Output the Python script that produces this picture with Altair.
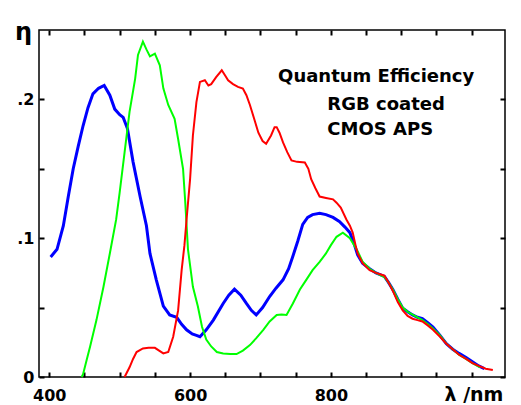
import altair as alt
import pandas as pd

# ---- data ----
blue_nm = [402, 411, 420, 427, 434, 441, 448, 455, 462, 470, 478, 486, 493, 500, 505, 511, 519, 529,
           538, 543, 552, 562, 571, 581, 588, 595, 603, 609, 614, 623, 633, 647, 655, 663, 672, 680,
           687, 694, 703, 713, 722, 732, 740, 746, 753, 760, 767, 774, 784, 793, 803, 812, 820, 827,
           833, 838, 845, 855, 864, 876, 882, 888, 895, 902, 909, 916, 923, 930, 938, 945, 955, 964,
           973, 982, 992, 1001, 1010, 1018]
blue_eta = [0.0865, 0.092, 0.109, 0.130, 0.150, 0.166, 0.181, 0.194, 0.204, 0.208, 0.210, 0.203, 0.193,
            0.189, 0.187, 0.179, 0.155, 0.130, 0.109, 0.089, 0.070, 0.051, 0.0447, 0.043, 0.038, 0.034,
            0.031, 0.030, 0.029, 0.034, 0.041, 0.053, 0.059, 0.0633, 0.059, 0.053, 0.048, 0.0447, 0.050,
            0.058, 0.064, 0.070, 0.078, 0.087, 0.098, 0.110, 0.115, 0.117, 0.118, 0.117, 0.115, 0.112,
            0.108, 0.104, 0.096, 0.088, 0.082, 0.078, 0.075, 0.0725, 0.068, 0.063, 0.056, 0.0496, 0.047,
            0.0447, 0.043, 0.042, 0.039, 0.036, 0.030, 0.024, 0.020, 0.017, 0.014, 0.011, 0.008, 0.006]

green_nm = [446, 448, 453, 458, 467, 477, 486, 495, 500, 507, 514, 522, 526, 533, 538, 543, 550, 557,
            562, 569, 578, 583, 590, 593, 597, 604, 611, 617, 623, 630, 638, 647, 657, 666, 675, 685,
            694, 704, 713, 723, 730, 737, 746, 756, 765, 774, 784, 793, 800, 808, 817, 827, 833, 838,
            845, 855, 864, 876, 882, 888, 895, 902, 909, 916, 923, 930, 938, 945, 955, 964, 973, 982,
            992, 1001, 1012]
green_eta = [0.0, 0.002, 0.012, 0.022, 0.041, 0.065, 0.089, 0.1135, 0.133, 0.162, 0.191, 0.215, 0.232,
             0.2416, 0.236, 0.231, 0.233, 0.2246, 0.208, 0.196, 0.186, 0.1715, 0.150, 0.127, 0.092,
             0.065, 0.051, 0.036, 0.027, 0.022, 0.018, 0.017, 0.0165, 0.0165, 0.019, 0.023, 0.028,
             0.034, 0.040, 0.0447, 0.045, 0.0447, 0.053, 0.063, 0.070, 0.077, 0.083, 0.089, 0.095,
             0.101, 0.104, 0.100, 0.095, 0.0906, 0.083, 0.078, 0.075, 0.072, 0.068, 0.063, 0.056,
             0.050, 0.047, 0.045, 0.043, 0.041, 0.038, 0.035, 0.030, 0.024, 0.020, 0.016, 0.013,
             0.010, 0.007]

red_nm = [507, 514, 519, 524, 533, 541, 550, 556, 562, 569, 576, 583, 588, 592, 595, 600, 604, 609,
          614, 621, 626, 630, 637, 645, 650, 654, 661, 668, 675, 680, 685, 691, 697, 703, 708, 715,
          720, 723, 727, 732, 738, 744, 752, 763, 768, 772, 778, 784, 793, 803, 808, 814, 822, 827,
          831, 835, 838, 845, 855, 864, 876, 882, 888, 895, 902, 909, 916, 923, 930, 938, 945, 955,
          964, 973, 982, 992, 1001, 1010, 1020, 1030]
red_eta = [0.0, 0.007, 0.013, 0.018, 0.0206, 0.021, 0.021, 0.019, 0.017, 0.018, 0.029, 0.048, 0.077,
           0.095, 0.1135, 0.1425, 0.174, 0.198, 0.2126, 0.2138, 0.210, 0.211, 0.216, 0.221, 0.217,
           0.2138, 0.211, 0.209, 0.2078, 0.203, 0.196, 0.186, 0.176, 0.170, 0.168, 0.174, 0.180,
           0.180, 0.176, 0.169, 0.162, 0.156, 0.155, 0.1546, 0.150, 0.1425, 0.136, 0.130, 0.129,
           0.128, 0.1256, 0.122, 0.1135, 0.109, 0.104, 0.095, 0.089, 0.082, 0.077, 0.075, 0.073,
           0.068, 0.062, 0.054, 0.048, 0.044, 0.042, 0.041, 0.040, 0.037, 0.034, 0.029, 0.024,
           0.020, 0.016, 0.013, 0.010, 0.008, 0.006, 0.005]

x_ticks = [400, 450, 500, 550, 600, 650, 700, 750, 800, 850, 900, 950, 1000]
y_ticks = [0.05, 0.1, 0.15, 0.2]
x_labels = [400, 600, 800]

notes = ["Quantum Efficiency", "RGB coated", "CMOS APS"]
# annotation anchors, in the chart's own units (nm, efficiency)
notes_nm = [725, 795, 795]
notes_eta = [0.2125, 0.1923, 0.1743]

W, H = 466, 347
XDOM = [385.4, 1047.3]
YDOM = [0, 0.25]
FONT = "DejaVu Sans"
TICK = 5  # inward tick length, drawn as dashed grid lines touching the frame

xs = alt.Scale(domain=XDOM, nice=False, zero=False)
ys = alt.Scale(domain=YDOM, nice=False, zero=True)

x_label_expr = "indexof([" + ",".join(str(v) for v in x_labels) + "], datum.value) >= 0 ? datum.label : ''"
y_label_expr = ("abs(datum.value - 0.1) < 1e-9 ? '.1' : "
                "(abs(datum.value - 0.2) < 1e-9 ? '.2' : '')")

xa = alt.Axis(values=x_ticks, title="λ /nm", grid=True, gridColor="black", gridWidth=2,
              gridOpacity=1, gridDash=[TICK, H - 2 * TICK],
              ticks=False, tickSize=0, domain=False, labelOverlap=False, labelExpr=x_label_expr,
              labelFont=FONT, labelFontWeight="bold", labelFontSize=16,
              labelColor="black", labelPadding=23, labelBaseline="alphabetic",
              titleFont=FONT, titleFontWeight="bold", titleFontSize=19, titleColor="black",
              titleAnchor="start", titleAlign="left", titleBaseline="alphabetic",
              titleX=405, titleY=23)
ya = alt.Axis(values=[0] + y_ticks, title="η", grid=True, gridColor="black", gridWidth=2,
              gridOpacity=1, gridDash=[TICK, W - 2 * TICK],
              ticks=False, tickSize=0, domain=False, labelOverlap=False,
              labelExpr="datum.value == 0 ? '0' : (" + y_label_expr + ")",
              labelFont=FONT, labelFontWeight="bold", labelFontSize=16,
              labelColor="black", labelPadding=5, labelAlign="right", labelBaseline="middle",
              titleFont=FONT, titleFontWeight="bold", titleFontSize=24, titleColor="black",
              titleAngle=0, titleAlign="center", titleBaseline="alphabetic",
              titleX=-16, titleY=9)


def X(field):
    return alt.X(field, scale=xs, axis=xa, title="λ /nm")


def Y(field):
    return alt.Y(field, scale=ys, axis=ya, title="η")


def curve(nm, eta, color, width):
    df = pd.DataFrame({"nm": nm, "eta": eta})
    return alt.Chart(df).mark_line(color=color, strokeWidth=width).encode(x=X("nm:Q"), y=Y("eta:Q"))


note_layer = alt.Chart(pd.DataFrame({"t": notes, "nm": notes_nm, "eta": notes_eta})).mark_text(
    font=FONT, fontWeight="bold", fontSize=18, color="black", align="left", baseline="alphabetic"
).encode(text="t:N", x=X("nm:Q"), y=Y("eta:Q"))

layers = [
    curve(blue_nm, blue_eta, "#0000ff", 3),
    curve(green_nm, green_eta, "#00ff00", 2),
    curve(red_nm, red_eta, "#ff0000", 2),
    note_layer,
]

chart = alt.layer(*layers).properties(
    width=W,
    height=H,
    autosize=alt.AutoSizeParams(type="none"),
    padding={"left": 31, "top": 22, "right": 8, "bottom": 36},
    background="white",
).configure_view(stroke="black", strokeWidth=1.5)

chart.save("out.html", embed_options={"renderer": "svg", "actions": False})
